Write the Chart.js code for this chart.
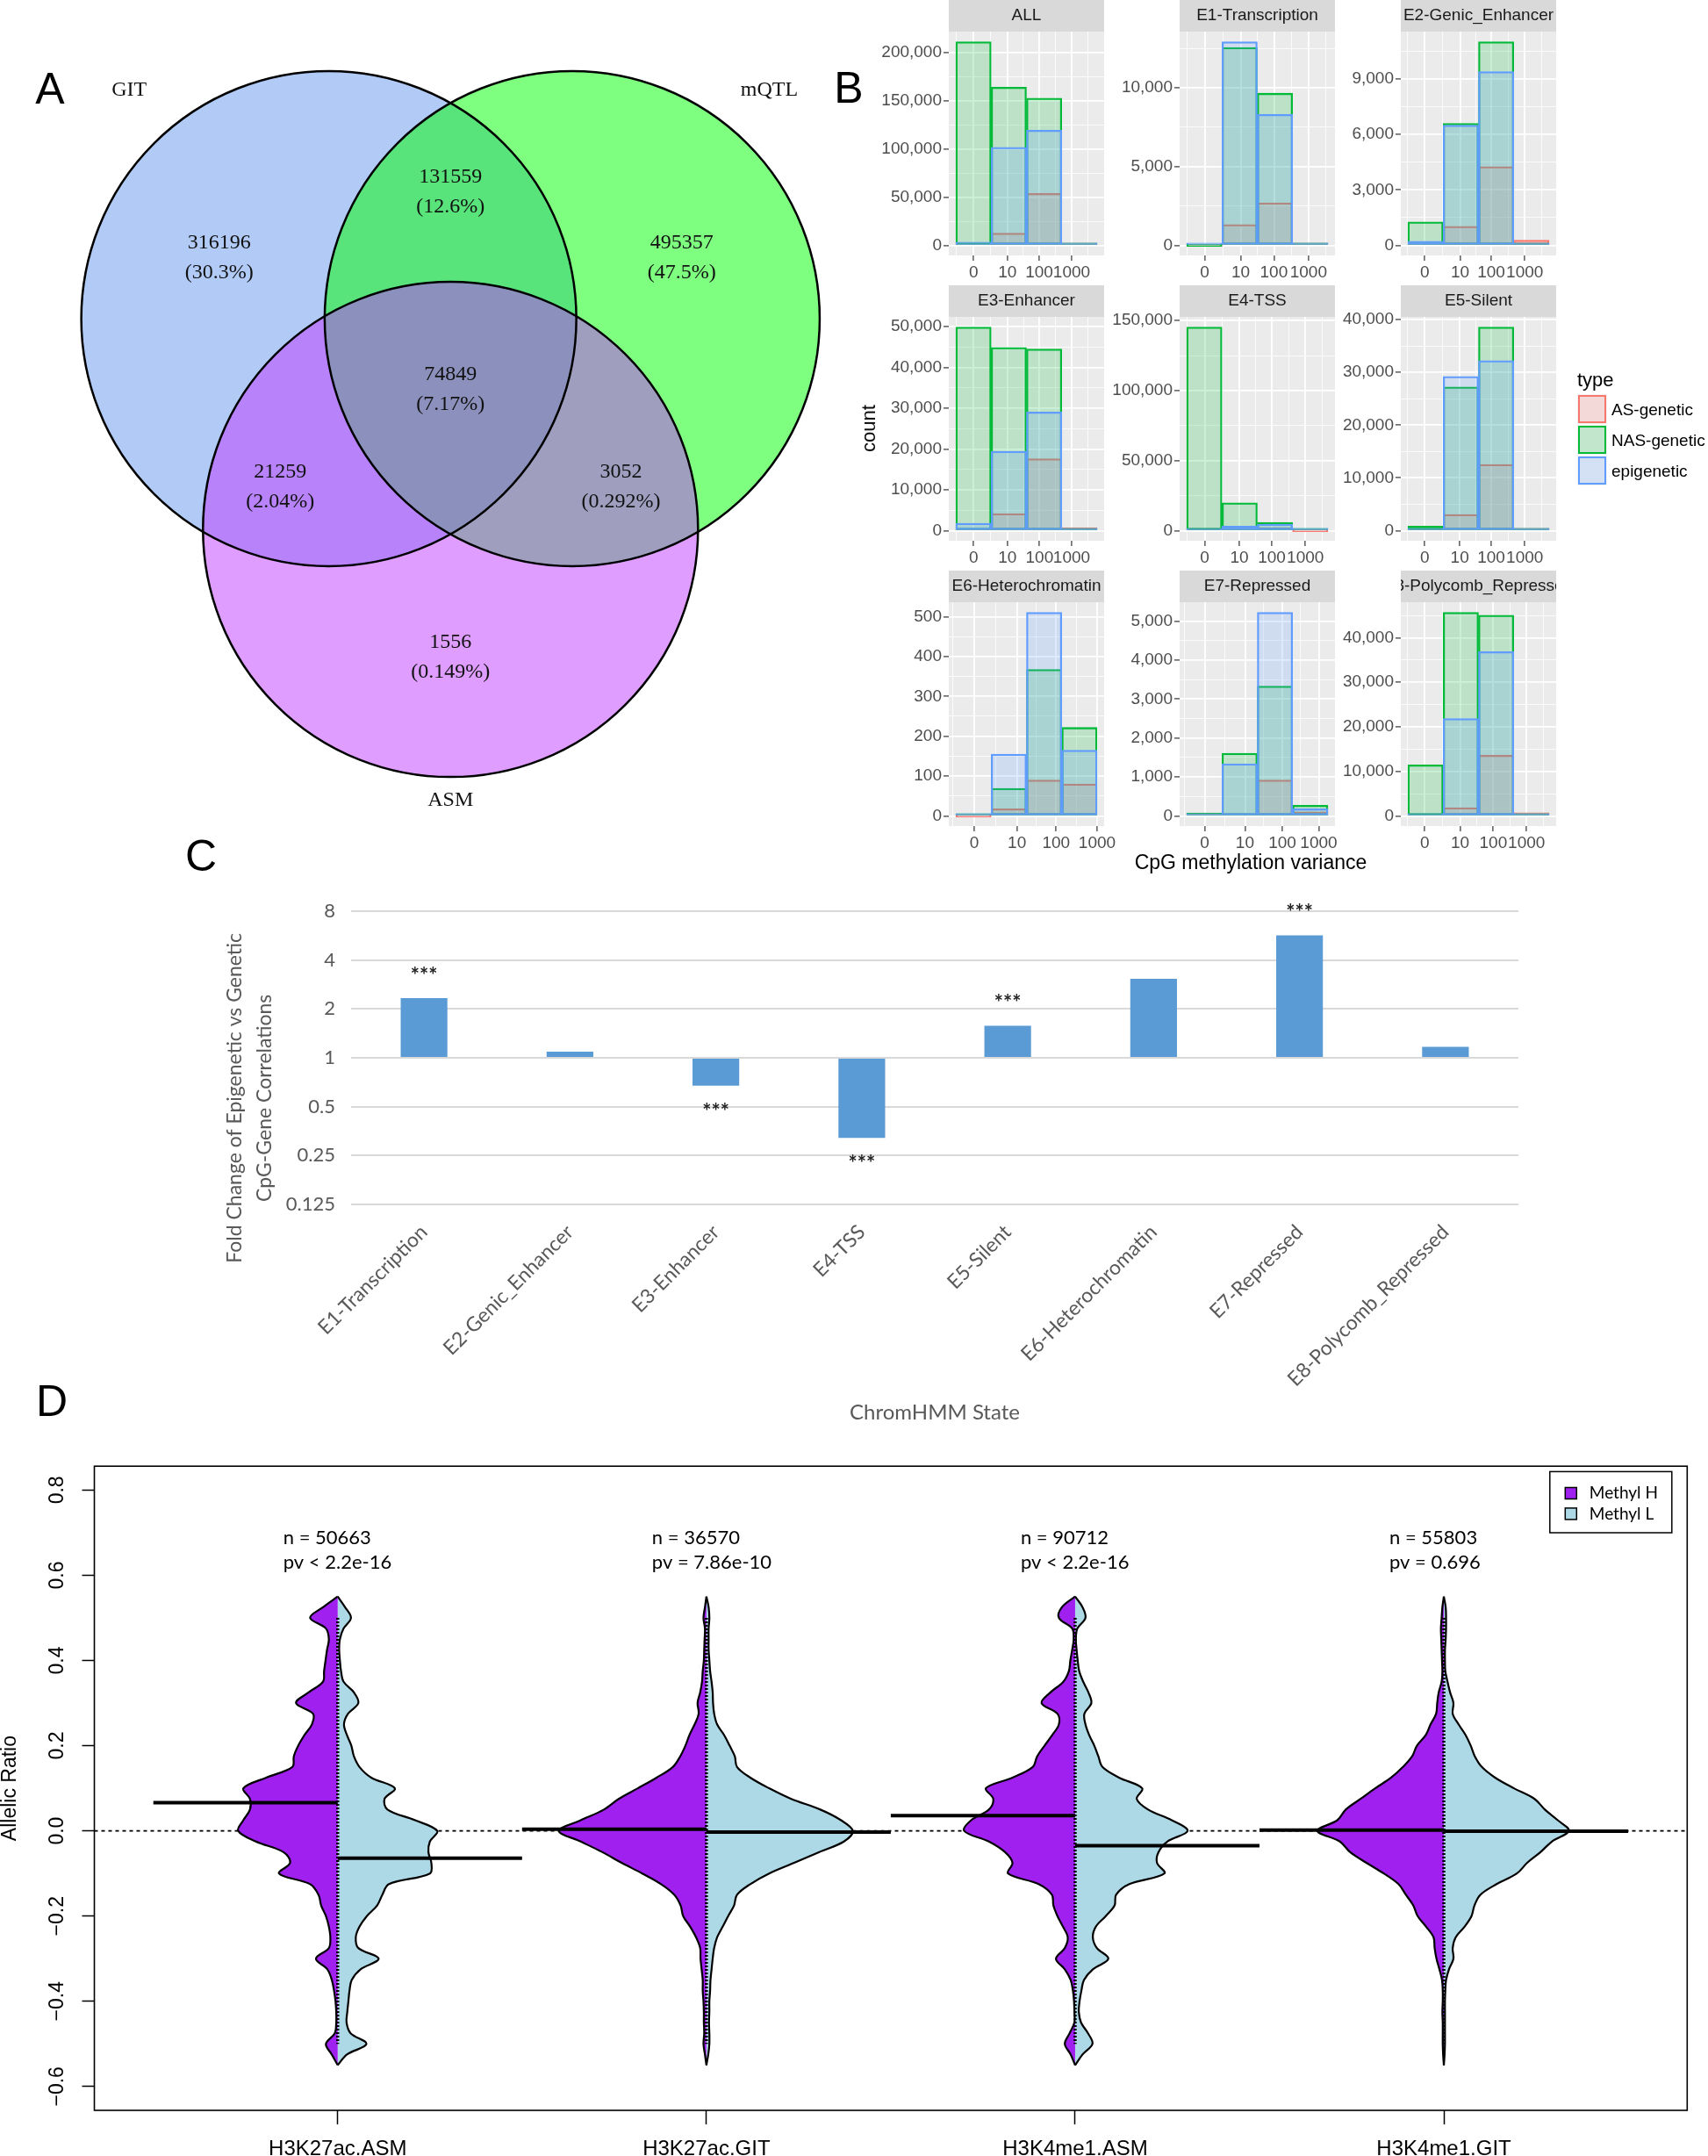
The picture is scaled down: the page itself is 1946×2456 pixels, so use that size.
<!DOCTYPE html>
<html>
<head>
<meta charset="utf-8">
<title>Figure</title>
<script src="https://cdn.jsdelivr.net/npm/chart.js@4.4.1/dist/chart.umd.min.js"></script>
<style>
  html, body { margin: 0; padding: 0; background: #fff; }
  body { position: relative; width: 1946px; height: 2456px; overflow: hidden; font-family: "Liberation Sans", Arial, sans-serif; }
  canvas { position: absolute; }
  .txt { position: absolute; white-space: nowrap; line-height: 1; }
</style>
</head>
<body>
<script>
const SANS = '"Liberation Sans", Arial, sans-serif';
const SERIF = '"Liberation Serif", "Times New Roman", serif';
const LATO = 'Lato, "Liberation Sans", sans-serif';

// ---------- A: overlap of the three CpG sets ----------
const vennSets = ["GIT", "mQTL", "ASM"];
const vennColors = ["rgba(100,149,237,0.5)", "rgba(0,255,0,0.5)", "rgba(191,62,255,0.5)"];
const vennCenters = [{x: -0.5, y: 0}, {x: 0.5, y: 0}, {x: 0, y: -0.866}];
const vennRadius = 1.017;
const vennCounts = [316196, 131559, 495357, 74849, 21259, 3052, 1556];
const vennPercents = ["30.3%", "12.6%", "47.5%", "7.17%", "2.04%", "0.292%", "0.149%"];

// ---------- B: histogram facets ----------
const facetNames = ["ALL", "E1-Transcription", "E2-Genic_Enhancer", "E3-Enhancer", "E4-TSS",
  "E5-Silent", "E6-Heterochromatin", "E7-Repressed", "E8-Polycomb_Repressed"];
const typeNames = ["AS-genetic", "NAS-genetic", "epigenetic"];
const binLabels = ["0", "10", "100", "1000"];
const asGenetic = [
  [1500, 12700, 54000, 2400],
  [0, 1310, 2690, 150],
  [60, 1025, 4260, 280],
  [430, 4150, 17620, 720],
  [400, 1250, 2100, 0],
  [50, 3050, 12540, 440],
  [0, 18, 90, 80],
  [15, 52, 920, 105],
  [60, 1830, 13620, 720]
];
const nasGenetic = [
  [211500, 164200, 153000, 1800],
  [0, 12560, 9650, 110],
  [1260, 6600, 11020, 30],
  [49860, 44840, 44480, 100],
  [145400, 19850, 5850, 50],
  [830, 27230, 38600, 30],
  [4, 69, 368, 222],
  [75, 1607, 3333, 270],
  [11460, 45700, 45040, 330]
];
const epigenetic = [
  [3300, 101800, 119700, 500],
  [20, 12915, 8300, 30],
  [220, 6510, 9410, 20],
  [1790, 19410, 29080, 50],
  [840, 3130, 4600, 200],
  [100, 29230, 32230, 20],
  [1, 155, 511, 165],
  [40, 1338, 5224, 180],
  [460, 21870, 36860, 200]
];
const yTickStep = [50000, 5000, 3000, 10000, 50000, 10000, 100, 1000, 10000];
// where the 0 / 10 / 100 / 1000 ticks fall, in bin units
const binTickAt = [
  [0.50, 1.46, 2.36, 3.28],
  [0.51, 1.53, 2.47, 3.45],
  [0.48, 1.48, 2.36, 3.31],
  [0.50, 1.46, 2.37, 3.28],
  [0.51, 1.49, 2.41, 3.36],
  [0.48, 1.47, 2.36, 3.31],
  [0.52, 1.73, 2.84, 4.00],
  [0.51, 1.65, 2.71, 3.74],
  [0.48, 1.48, 2.42, 3.36]
];

// ---------- C: fold change per ChromHMM state ----------
const stateNames = ["E1-Transcription", "E2-Genic_Enhancer", "E3-Enhancer", "E4-TSS",
  "E5-Silent", "E6-Heterochromatin", "E7-Repressed", "E8-Polycomb_Repressed"];
const foldChange = [2.33, 1.09, 0.672, 0.321, 1.575, 3.06, 5.66, 1.166];
const significance = ["***", "", "***", "***", "***", "", "***", ""];
const foldTicks = [0.125, 0.25, 0.5, 1, 2, 4, 8];

// ---------- D: split violins of allelic ratio ----------
const markNames = ["H3K27ac.ASM", "H3K27ac.GIT", "H3K4me1.ASM", "H3K4me1.GIT"];
const markN = [50663, 36570, 90712, 55803];
const markPv = ["pv < 2.2e-16", "pv = 7.86e-10", "pv < 2.2e-16", "pv = 0.696"];
const methylNames = ["Methyl H", "Methyl L"];
const methylColors = ["#A020F0", "#ADD8E6"];
const ratioTicks = [-0.6, -0.4, -0.2, 0, 0.2, 0.4, 0.6, 0.8];
const ratioLevels = [0.55, 0.525, 0.5, 0.475, 0.45, 0.425, 0.4, 0.375, 0.35, 0.325, 0.3, 0.275,
  0.25, 0.225, 0.2, 0.175, 0.15, 0.125, 0.1, 0.075, 0.05, 0.025, 0,
  -0.025, -0.05, -0.075, -0.1, -0.125, -0.15, -0.175, -0.2, -0.225, -0.25, -0.275,
  -0.3, -0.325, -0.35, -0.375, -0.4, -0.425, -0.45, -0.475, -0.5, -0.525, -0.55];
const densityH = [
  [0, 0.040, 0.075, 0.032, 0.024, 0.029, 0.033, 0.037, 0.040, 0.079, 0.113, 0.067, 0.070, 0.090, 0.107, 0.119, 0.123, 0.194, 0.256, 0.238, 0.238, 0.256, 0.270,
   0.222, 0.147, 0.129, 0.159, 0.075, 0.052, 0.045, 0.032, 0.024, 0.020, 0.024, 0.059, 0.028, 0.016, 0.010, 0.006, 0.004, 0.004, 0.008, 0.032, 0.016, 0],
  [0, 0.004, 0.008, 0.004, 0.005, 0.006, 0.007, 0.010, 0.012, 0.017, 0.024, 0.021, 0.032, 0.046, 0.057, 0.071, 0.091, 0.135, 0.186, 0.238, 0.278, 0.341, 0.400,
   0.341, 0.282, 0.230, 0.174, 0.123, 0.087, 0.070, 0.063, 0.044, 0.028, 0.017, 0.016, 0.013, 0.010, 0.010, 0.008, 0.007, 0.007, 0.006, 0.008, 0.004, 0],
  [0, 0.036, 0.044, 0.008, 0.004, 0.008, 0.013, 0.017, 0.032, 0.067, 0.091, 0.048, 0.044, 0.062, 0.083, 0.103, 0.115, 0.170, 0.242, 0.222, 0.234, 0.282, 0.301,
   0.234, 0.190, 0.170, 0.182, 0.099, 0.063, 0.059, 0.048, 0.033, 0.020, 0.028, 0.052, 0.028, 0.012, 0.006, 0.003, 0.002, 0.002, 0.015, 0.028, 0.012, 0],
  [0, 0.004, 0.006, 0.008, 0.007, 0.006, 0.005, 0.004, 0.006, 0.014, 0.018, 0.021, 0.036, 0.049, 0.073, 0.086, 0.111, 0.143, 0.186, 0.226, 0.266, 0.289, 0.343,
   0.282, 0.254, 0.210, 0.163, 0.123, 0.103, 0.083, 0.071, 0.048, 0.028, 0.025, 0.020, 0.012, 0.005, 0.003, 0.003, 0.004, 0.003, 0.003, 0.003, 0.002, 0]
];
const densityL = [
  [0, 0.020, 0.036, 0.016, 0.006, 0.004, 0.006, 0.009, 0.016, 0.044, 0.056, 0.028, 0.017, 0.025, 0.037, 0.044, 0.059, 0.091, 0.155, 0.127, 0.135, 0.210, 0.270,
   0.250, 0.246, 0.254, 0.250, 0.139, 0.121, 0.107, 0.079, 0.059, 0.049, 0.056, 0.111, 0.062, 0.038, 0.032, 0.029, 0.026, 0.024, 0.035, 0.078, 0.025, 0],
  [0, 0.006, 0.008, 0.006, 0.006, 0.006, 0.008, 0.010, 0.014, 0.017, 0.018, 0.021, 0.029, 0.048, 0.063, 0.077, 0.083, 0.119, 0.170, 0.230, 0.309, 0.365, 0.397,
   0.373, 0.305, 0.238, 0.170, 0.119, 0.083, 0.075, 0.059, 0.044, 0.029, 0.021, 0.017, 0.014, 0.011, 0.010, 0.008, 0.008, 0.007, 0.008, 0.008, 0.005, 0],
  [0, 0.020, 0.028, 0.006, 0.002, 0.004, 0.007, 0.011, 0.022, 0.036, 0.044, 0.025, 0.028, 0.038, 0.052, 0.063, 0.074, 0.119, 0.182, 0.167, 0.198, 0.262, 0.305,
   0.250, 0.226, 0.222, 0.242, 0.147, 0.111, 0.107, 0.083, 0.056, 0.048, 0.059, 0.090, 0.048, 0.024, 0.017, 0.012, 0.010, 0.016, 0.035, 0.047, 0.020, 0],
  [0, 0.005, 0.006, 0.006, 0.005, 0.003, 0.003, 0.004, 0.010, 0.017, 0.026, 0.024, 0.040, 0.059, 0.073, 0.084, 0.103, 0.139, 0.190, 0.246, 0.274, 0.309, 0.339,
   0.293, 0.262, 0.226, 0.198, 0.143, 0.099, 0.083, 0.075, 0.056, 0.032, 0.024, 0.026, 0.014, 0.006, 0.004, 0.003, 0.003, 0.003, 0.003, 0.003, 0.002, 0]
];
const meanH = [0.066, 0.004, 0.036, 0.002];
const meanL = [-0.064, -0.003, -0.035, -0.001];
const ratioRange = [0.5, -0.5];

Chart.defaults.font.family = SANS;
Chart.defaults.animation = false;
Chart.defaults.responsive = false;
Chart.defaults.events = [];
Chart.defaults.plugins.legend.display = false;
Chart.defaults.plugins.tooltip.enabled = false;

function addCanvas(x, y, w, h) {
  const c = document.createElement("canvas");
  c.width = w;
  c.height = h;
  c.style.left = x + "px";
  c.style.top = y + "px";
  document.body.appendChild(c);
  return c;
}

function addText(str, x, y, css, anchor, rotate) {
  const d = document.createElement("div");
  d.className = "txt";
  d.textContent = str;
  d.style.cssText += css;
  d.style.left = x + "px";
  d.style.top = y + "px";
  const tx = anchor === "left" ? "0" : "-50%";
  d.style.transform = `translate(${tx}, -50%)` + (rotate ? ` rotate(${rotate}deg)` : "");
  document.body.appendChild(d);
  return d;
}

// ================= A =================
const vennRegionAt = [[-0.95, 0.25], [0, 0.52], [0.95, 0.25], [0, -0.29], [-0.70, -0.69], [0.70, -0.69], [0, -1.39]];
const vennSetAt = [[-1.32, 0.94], [1.31, 0.94], [0, -1.98]];
const unitPx = chart => chart.scales.x.getPixelForValue(1) - chart.scales.x.getPixelForValue(0);

const vennText = {
  id: "vennText",
  afterDatasetsDraw(chart) {
    const {ctx, scales: {x, y}} = chart;
    ctx.save();
    ctx.fillStyle = "#111";
    ctx.font = "24px " + SERIF;
    ctx.textAlign = "center";
    ctx.textBaseline = "middle";
    vennCounts.forEach((n, i) => {
      const px = x.getPixelForValue(vennRegionAt[i][0]);
      const py = y.getPixelForValue(vennRegionAt[i][1]);
      ctx.fillText(String(n), px, py - 17);
      ctx.fillText("(" + vennPercents[i] + ")", px, py + 17);
    });
    vennSets.forEach((s, i) => {
      ctx.fillText(s, x.getPixelForValue(vennSetAt[i][0]), y.getPixelForValue(vennSetAt[i][1]));
    });
    ctx.restore();
  }
};

new Chart(addCanvas(0, 0, 960, 950), {
  type: "scatter",
  data: {
    datasets: [
      {
        data: vennCenters.map(p => ({...p})),
        pointBackgroundColor: vennColors,
        pointBorderWidth: 0,
        pointRadius: c => vennRadius * unitPx(c.chart),
        clip: false,
        order: 2
      },
      {
        data: vennCenters.map(p => ({...p})),
        pointBackgroundColor: "rgba(0,0,0,0)",
        pointBorderColor: "#000",
        pointBorderWidth: 2.5,
        pointRadius: c => vennRadius * unitPx(c.chart),
        clip: false,
        order: 1
      }
    ]
  },
  options: {
    layout: {padding: 0},
    scales: {
      x: {type: "linear", display: false, min: -1.851, max: 1.611},
      y: {type: "linear", display: false, min: -2.117, max: 1.309}
    }
  },
  plugins: [vennText]
});

// ================= B =================
const series = [asGenetic, nasGenetic, epigenetic];
const typeColors = ["#F8766D", "#00BA38", "#619CFF"];
const typeFills = ["rgba(248,118,109,0.2)", "rgba(0,186,56,0.2)", "rgba(97,156,255,0.2)"];
const facetLeft = [1080.7, 1344.2, 1596.4];
const facetTop = [0, 325, 650];
const FW = 177, STRIP = 36, PH = 255;

const facetPanel = {
  id: "facetPanel",
  beforeDraw(chart, args, opts) {
    const {ctx, chartArea: a} = chart;
    ctx.save();
    ctx.fillStyle = "#EBEBEB";
    ctx.fillRect(a.left, a.top, a.right - a.left, a.bottom - a.top);
    ctx.fillStyle = "#D9D9D9";
    ctx.fillRect(a.left, a.top - STRIP, a.right - a.left, STRIP);
    ctx.beginPath();
    ctx.rect(a.left, a.top - STRIP, a.right - a.left, STRIP);
    ctx.clip();
    ctx.fillStyle = "#1A1A1A";
    ctx.font = "19px " + SANS;
    ctx.textAlign = "center";
    ctx.textBaseline = "middle";
    ctx.fillText(opts.title, (a.left + a.right) / 2, a.top - STRIP / 2);
    ctx.restore();
  }
};

function xTicksFor(major) {
  const t = major.map(v => ({value: v}));
  const step0 = major[1] - major[0], stepN = major[3] - major[2];
  const minors = [major[0] - step0 / 2];
  for (let k = 0; k < major.length - 1; k++) minors.push((major[k] + major[k + 1]) / 2);
  minors.push(major[3] + stepN / 2);
  minors.filter(v => v > -0.2 && v < 4.2).forEach(v => t.push({value: v, minor: true}));
  return t.sort((a, b) => a.value - b.value);
}

function yTicksFor(step, top) {
  const t = [];
  for (let v = 0; v <= top; v += step) t.push({value: v});
  for (let v = step / 2; v <= top; v += step) t.push({value: v, minor: true});
  return t.sort((a, b) => a.value - b.value);
}

const gridWidth = c => (c.tick && c.tick.minor) ? 0.8 : 1.8;
const gridTick = c => (c.tick && c.tick.minor) ? "rgba(0,0,0,0)" : "#333333";

function drawFacet(i) {
  const col = i % 3, row = Math.floor(i / 3);
  const canvas = addCanvas(facetLeft[col] - 80, facetTop[row], 80 + FW + 30, STRIP + PH + 40);
  const peak = Math.max(...series.map(s => Math.max(...s[i])));
  new Chart(canvas, {
    type: "bar",
    data: {
      datasets: series.map((s, k) => ({
        label: typeNames[k],
        data: s[i].map((v, b) => ({x: b + 0.5, y: v})),
        backgroundColor: typeFills[k],
        borderColor: typeColors[k],
        borderWidth: 1.6,
        borderSkipped: false,
        minBarLength: 2.5,
        grouped: false,
        barPercentage: 1,
        categoryPercentage: 1,
        order: 3 - k
      }))
    },
    options: {
      layout: {padding: {top: STRIP, right: 30, left: 0, bottom: 0}},
      plugins: {facetPanel: {title: facetNames[i]}},
      scales: {
        // bins live on this hidden axis; one tick per bin keeps the bars full width
        x: {
          type: "linear",
          display: false,
          min: -0.2,
          max: 4.2,
          offset: false,
          afterBuildTicks: s => { s.ticks = binLabels.map((b, k) => ({value: k + 0.5})); }
        },
        x2: {
          type: "linear",
          position: "bottom",
          min: -0.2,
          max: 4.2,
          offset: false,
          afterBuildTicks: s => { s.ticks = xTicksFor(binTickAt[i]); },
          afterFit: s => { s.height = 40; s.paddingLeft = 0; s.paddingRight = 0; },
          ticks: {
            autoSkip: false, maxRotation: 0, color: "#4D4D4D", font: {size: 19}, padding: 2,
            callback: v => { const k = binTickAt[i].indexOf(v); return k < 0 ? "" : binLabels[k]; }
          },
          grid: {offset: false, color: "#FFFFFF", lineWidth: gridWidth, tickColor: gridTick, tickLength: 6, tickWidth: 1.2},
          border: {display: false}
        },
        y: {
          min: -0.05 * peak,
          max: 1.05 * peak,
          afterBuildTicks: s => { s.ticks = yTicksFor(yTickStep[i], 1.05 * peak); },
          afterFit: s => { s.width = 80; s.paddingTop = 0; s.paddingBottom = 0; },
          ticks: {
            autoSkip: false, color: "#4D4D4D", font: {size: 19}, padding: 2,
            callback: (v, idx, ts) => ts[idx].minor ? "" : v.toLocaleString("en-US")
          },
          grid: {color: "#FFFFFF", lineWidth: gridWidth, tickColor: gridTick, tickLength: 6, tickWidth: 1.2},
          border: {display: false}
        }
      }
    },
    plugins: [facetPanel]
  });
}
facetNames.forEach((n, i) => drawFacet(i));

addText("count", 990, 488, "font-size:22px;color:#000;", "center", -90);
addText("CpG methylation variance", 1425, 982, "font-size:23px;color:#000;");
addText("type", 1797, 433, "font-size:22px;color:#000;", "left");
typeNames.forEach((t, k) => {
  const key = document.createElement("div");
  key.style.cssText = `position:absolute;left:1797px;top:${449 + k * 35}px;width:34px;height:34px;background:#F2F2F2;`;
  const inner = document.createElement("div");
  inner.style.cssText = `position:absolute;left:1px;top:1px;width:28px;height:28px;border:2px solid ${typeColors[k]};background:${typeFills[k]};`;
  key.appendChild(inner);
  document.body.appendChild(key);
  addText(t, 1836, 466 + k * 35, "font-size:19px;color:#000;", "left");
});

// ================= C =================
const starPlugin = {
  id: "stars",
  afterDatasetsDraw(chart) {
    const {ctx} = chart;
    const bars = chart.getDatasetMeta(0).data;
    ctx.save();
    ctx.fillStyle = "#222";
    ctx.font = "bold 24px " + LATO;
    ctx.textAlign = "center";
    ctx.textBaseline = "middle";
    significance.forEach((s, i) => {
      if (!s) return;
      const b = bars[i];
      ctx.fillText(s, b.x, foldChange[i] >= 1 ? b.y - 25 : b.y + 30);
    });
    ctx.restore();
  }
};

const foldAxisTitle = ["Fold Change of Epigenetic vs Genetic", "CpG-Gene Correlations"];
const foldTitle = {
  id: "foldTitle",
  afterDraw(chart) {
    const {ctx, chartArea: a} = chart;
    const cy = (a.top + a.bottom) / 2 + 46;
    ctx.save();
    ctx.fillStyle = "#595959";
    ctx.font = "23px " + LATO;
    ctx.textAlign = "center";
    ctx.textBaseline = "middle";
    foldAxisTitle.forEach((t, k) => {
      ctx.save();
      ctx.translate(a.left - 132 + k * 34, cy);
      ctx.rotate(-Math.PI / 2);
      ctx.fillText(t, 0, 0);
      ctx.restore();
    });
    ctx.restore();
  }
};

new Chart(addCanvas(200, 980, 1560, 660), {
  type: "bar",
  data: {
    labels: stateNames,
    datasets: [{
      data: foldChange,
      base: 1,
      backgroundColor: "#5B9BD5",
      barPercentage: 0.32,
      categoryPercentage: 1
    }]
  },
  options: {
    layout: {padding: {top: 57.8, right: 30, left: 0, bottom: 0}},
    scales: {
      x: {
        grid: {display: false},
        border: {display: false},
        afterFit: s => { s.height = 268; s.paddingLeft = 0; s.paddingRight = 0; },
        ticks: {minRotation: 45, maxRotation: 45, autoSkip: false, color: "#595959", font: {family: LATO, size: 23}, padding: 10},
        title: {display: true, text: "ChromHMM State", color: "#595959", font: {family: LATO, size: 24}, padding: {top: 0, bottom: 16}}
      },
      y: {
        type: "logarithmic",
        min: 0.125,
        max: 8,
        afterBuildTicks: s => { s.ticks = foldTicks.map(v => ({value: v})); },
        afterFit: s => { s.width = 200; s.paddingTop = 0; s.paddingBottom = 0; },
        ticks: {color: "#595959", font: {family: LATO, size: 22}, padding: 18, callback: v => String(v)},
        grid: {color: "#D9D9D9", lineWidth: 2, drawTicks: false},
        border: {display: false}
      }
    }
  },
  plugins: [starPlugin, foldTitle]
});

// ================= D =================
const ratioLimits = [-0.6, 0.8];
const markLimits = [0.5, 4.5];
const ySpan = ratioLimits[1] - ratioLimits[0];
const xSpan = markLimits[1] - markLimits[0];
const fmtRatio = v => (v < 0 ? "\u2212" : "") + Math.abs(v).toFixed(1);

const vioFrame = {
  id: "vioFrame",
  beforeDatasetsDraw(chart) {
    const {ctx, chartArea: a, scales: {y}} = chart;
    const y0 = y.getPixelForValue(0);
    ctx.save();
    ctx.strokeStyle = "#000";
    ctx.lineWidth = 1.8;
    ctx.setLineDash([4, 4]);
    ctx.beginPath();
    ctx.moveTo(a.left, y0);
    ctx.lineTo(a.right, y0);
    ctx.stroke();
    ctx.restore();
  },
  afterDraw(chart) {
    const {ctx, chartArea: a, scales: {x, y}} = chart;
    ctx.save();
    ctx.strokeStyle = "#000";
    ctx.lineWidth = 1.6;
    ctx.strokeRect(a.left, a.top, a.right - a.left, a.bottom - a.top);

    ctx.fillStyle = "#000";
    ctx.font = "23px " + SANS;
    ctx.textAlign = "center";
    ctx.textBaseline = "middle";
    y.ticks.forEach(t => {
      ctx.save();
      ctx.translate(a.left - 42, y.getPixelForValue(t.value));
      ctx.rotate(-Math.PI / 2);
      ctx.fillText(fmtRatio(t.value), 0, 0);
      ctx.restore();
    });

    ctx.font = "22px " + LATO;
    ctx.textAlign = "left";
    markNames.forEach((m, i) => {
      const px = x.getPixelForValue(i + 1) - 62;
      ctx.fillText("n = " + markN[i], px, y.getPixelForValue(0.687));
      ctx.fillText(markPv[i], px, y.getPixelForValue(0.629));
    });

    const lw = 139, lh = 69.6;
    const lx = a.right - 17.5 - lw, ly = a.top + 6.2;
    ctx.lineWidth = 1.5;
    ctx.strokeRect(lx, ly, lw, lh);
    ctx.font = "19px " + LATO;
    methylNames.forEach((nm, k) => {
      const cy = ly + 24.6 + k * 23.4;
      ctx.fillStyle = methylColors[k];
      ctx.fillRect(lx + 17.5, cy - 6.5, 13, 13);
      ctx.strokeRect(lx + 17.5, cy - 6.5, 13, 13);
      ctx.fillStyle = "#000";
      ctx.fillText(nm, lx + 45, cy);
    });
    ctx.restore();
  }
};

const vioDatasets = [];
markNames.forEach((m, i) => {
  const c = i + 1;
  [densityH, densityL].forEach((dens, side) => {
    const sign = side === 0 ? -1 : 1;
    vioDatasets.push({
      data: ratioLevels.map((r, k) => ({x: c + sign * dens[i][k], y: r})),
      showLine: true,
      fill: "shape",
      backgroundColor: methylColors[side],
      borderColor: "#000",
      borderWidth: 2.2,
      pointRadius: 0,
      tension: 0.35,
      order: 3
    });
  });
  vioDatasets.push({
    data: ratioRange.map(r => ({x: c, y: r})),
    showLine: true,
    borderColor: "#000",
    borderWidth: 3.5,
    borderDash: [2, 2],
    pointRadius: 0,
    order: 2
  });
  vioDatasets.push({
    data: [{x: c - 0.5, y: meanH[i]}, {x: c, y: meanH[i]}],
    showLine: true, borderColor: "#000", borderWidth: 4, pointRadius: 0, order: 1
  });
  vioDatasets.push({
    data: [{x: c, y: meanL[i]}, {x: c + 0.5, y: meanL[i]}],
    showLine: true, borderColor: "#000", borderWidth: 4, pointRadius: 0, order: 1
  });
});

new Chart(addCanvas(0, 1640, 1946, 816), {
  type: "scatter",
  data: {datasets: vioDatasets},
  options: {
    layout: {padding: {top: 30.2, right: 23.7, left: 0, bottom: 0}},
    scales: {
      x: {
        type: "linear",
        min: markLimits[0] - 0.04 * xSpan,
        max: markLimits[1] + 0.04 * xSpan,
        afterBuildTicks: s => { s.ticks = markNames.map((m, i) => ({value: i + 1})); },
        afterFit: s => { s.height = 52; s.paddingLeft = 0; s.paddingRight = 0; },
        ticks: {autoSkip: false, maxRotation: 0, color: "#000", font: {size: 24}, padding: 14, callback: v => markNames[v - 1]},
        grid: {drawOnChartArea: false, tickLength: 16, tickColor: "#000", tickWidth: 1.5},
        border: {display: false}
      },
      y: {
        type: "linear",
        min: ratioLimits[0] - 0.04 * ySpan,
        max: ratioLimits[1] + 0.04 * ySpan,
        afterBuildTicks: s => { s.ticks = ratioTicks.map(v => ({value: v})); },
        afterFit: s => { s.width = 107.5; s.paddingTop = 0; s.paddingBottom = 0; },
        ticks: {display: false},
        grid: {drawOnChartArea: false, tickLength: 14, tickColor: "#000", tickWidth: 1.5},
        border: {display: false},
        title: {display: true, text: "Allelic Ratio", color: "#000", font: {size: 23, lineHeight: 1}, padding: {top: 0, bottom: 0}}
      }
    }
  },
  plugins: [vioFrame]
});

// panel letters
addText("A", 57, 101, "font-size:50px;color:#000;");
addText("B", 967, 100, "font-size:50px;color:#000;");
addText("C", 229, 975, "font-size:50px;color:#000;");
addText("D", 59, 1596, "font-size:50px;color:#000;");
</script>
</body>
</html>
